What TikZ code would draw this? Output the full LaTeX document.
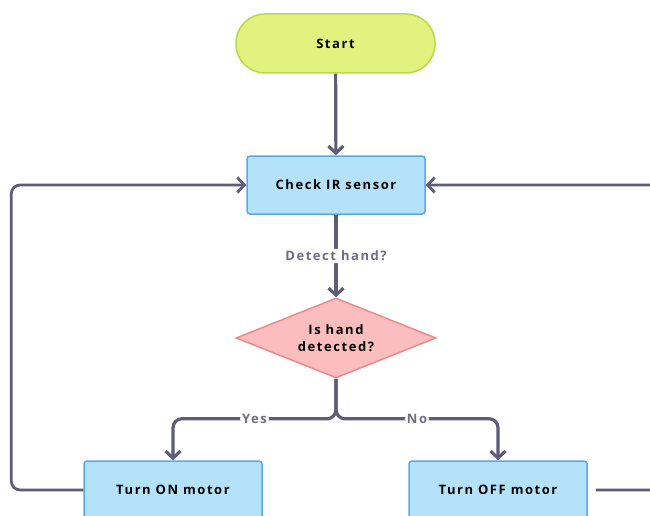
\documentclass[tikz,border=0pt]{standalone}
\usepackage{fontspec}
\setmainfont{Open Sans}
\newfontfamily\flowfont{Open Sans}[LetterSpace=12]
\usepackage{xcolor}
\usetikzlibrary{shapes,arrows.meta,positioning,calc}

\definecolor{startfill}{HTML}{E2F27E}
\definecolor{startline}{HTML}{B9D84C}
\definecolor{boxfill}{HTML}{B5E2FB}
\definecolor{boxline}{HTML}{5AA9E6}
\definecolor{askfill}{HTML}{FBBDBD}
\definecolor{askline}{HTML}{EE8A8A}
\definecolor{flow}{HTML}{5E5D78}
\definecolor{flowtext}{HTML}{6E6D84}

\begin{document}
\begin{tikzpicture}[x=1pt, y=-1pt, >={Straight Barb[length=7pt,width=15pt]},
    flowline/.style={line width=3.2pt, flow, rounded corners=9pt},
    stepbox/.style={draw=boxline, fill=boxfill, line width=1.5pt, rounded corners=3pt, minimum width=178pt, minimum height=58pt, font=\flowfont\bfseries\fontsize{13}{15}\selectfont},
    flowlabel/.style={fill=white, text=flowtext, inner sep=2pt, font=\flowfont\bfseries\fontsize{13}{15}\selectfont}]
    \clip (0,0) rectangle (650,516);
    \fill[white] (0,0) rectangle (650,516);

    % Start and check
    \node[draw=startline, fill=startfill, line width=1.5pt, rounded corners=29pt, minimum width=199pt, minimum height=59pt, font=\flowfont\bfseries\fontsize{13}{15}\selectfont] (start) at (335.5,43.5) {Start};
    \node[stepbox] (check) at (336,185) {Check IR sensor};
    \draw[flowline, ->] (start) -- (check);

    % Decision
    \node[diamond, aspect=2.5, draw=askline, fill=askfill, line width=1.5pt, minimum width=200pt, minimum height=80pt, inner sep=0pt, align=center, font=\flowfont\bfseries\fontsize{13}{17}\selectfont] (ask) at (336,338) {Is hand\\detected?};
    \draw[flowline, ->] (check) -- node[flowlabel] {Detect hand?} (ask);

    % Motor
    \node[stepbox] (on) at (173,490) {Turn ON motor};
    \node[stepbox] (off) at (498,490) {Turn OFF motor};
    \draw[flowline, ->] (ask.south) -- ++(0,40) -| node[flowlabel, pos=0.25] {Yes} (on.north);
    \draw[flowline, ->] (ask.south) -- ++(0,40) -| node[flowlabel, pos=0.25] {No} (off.north);

    % Loop back
    \draw[flowline, line width=2.8pt, ->] (on.west) -- ++(-72,0) |- (check.west);
    \draw[flowline, line width=2.8pt, ->] ([xshift=8pt]off.east) -- ++(120,0) |- (check.east);
\end{tikzpicture}
\end{document}
